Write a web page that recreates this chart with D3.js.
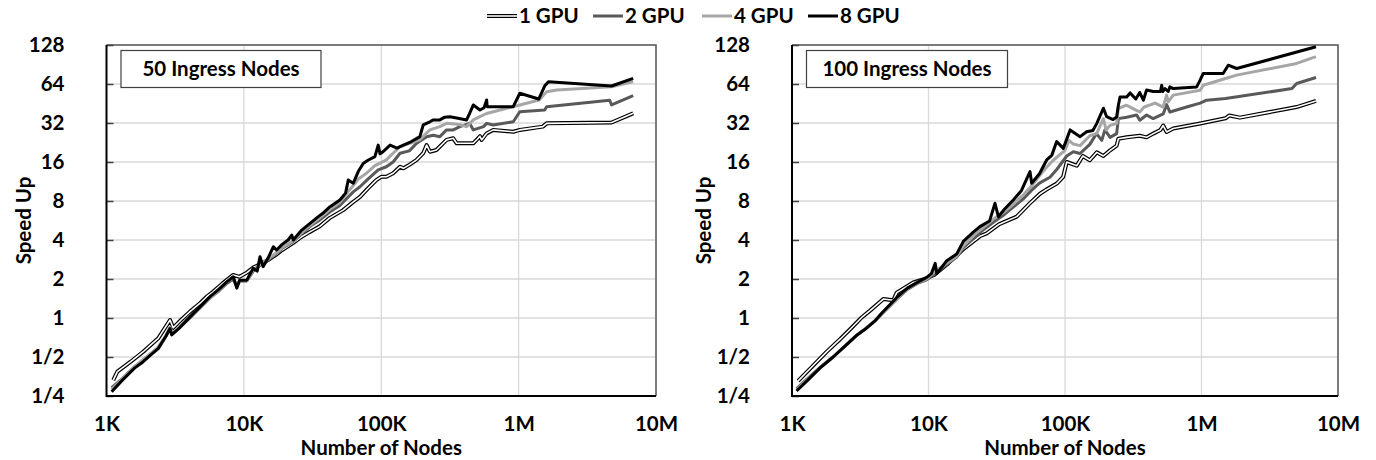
<!DOCTYPE html>
<html>
<head>
<meta charset="utf-8">
<script src="https://cdn.jsdelivr.net/npm/d3@7"></script>
<style>
  body { margin: 0; background: #fff; }
  svg { display: block; }
</style>
</head>
<body>
<svg class="chart" width="1376" height="460"></svg>
<script>
// axis ticks (x in thousands of nodes)
const xTicks = [1, 10, 100, 1000, 10000];
const xTickLabels = ["1K", "10K", "100K", "1M", "10M"];
const yTicks = [0.25, 0.5, 1, 2, 4, 8, 16, 32, 64, 128];
const yTickLabels = ["1/4", "1/2", "1", "2", "4", "8", "16", "32", "64", "128"];
const seriesNames = ["1 GPU", "2 GPU", "4 GPU", "8 GPU"];
const panelTitles = ["50 Ingress Nodes", "100 Ingress Nodes"];

// ---- 50 ingress nodes ----
const n50_1 = [1.12, 1.2, 1.5, 1.85, 2.1, 2.38, 2.9, 3.06, 3.5, 4.05, 4.8, 5.36, 5.99, 7, 8.37, 9.3, 10.5, 11.7, 13.1, 15, 17.3, 19, 22.9, 26, 30, 35.7, 42, 52.8, 62, 70, 80, 92, 100, 109, 122, 137, 145, 160, 181, 202, 214, 226, 252, 299, 334, 354, 468, 500, 523, 538, 585, 653, 914, 1020, 1500, 1600, 4750, 6820];
const s50_1 = [0.332, 0.385, 0.46, 0.549, 0.62, 0.697, 0.965, 0.84, 0.97, 1.12, 1.3, 1.46, 1.6, 1.85, 2.15, 2.08, 2.24, 2.45, 2.6, 2.8, 3.1, 3.35, 3.8, 4.2, 4.6, 5.1, 5.9, 6.8, 7.8, 8.6, 10, 11.6, 12.3, 12.3, 13.1, 14.7, 14.3, 15.2, 16.6, 18.7, 21.6, 19.2, 19.8, 23.7, 24.4, 22.3, 22.3, 24, 25.3, 23.7, 26.6, 28.3, 27.4, 28.3, 30, 31.8, 32.3, 38];

const n50_2 = [1.09, 1.3, 1.6, 1.85, 2.1, 2.38, 2.7, 2.9, 3.0, 3.4, 4.05, 4.8, 5.67, 6.5, 7.5, 8.37, 8.88, 9.3, 10.5, 11.7, 13.1, 15, 17.3, 19, 22.9, 26, 30.3, 34.8, 42.4, 50, 57.5, 62.5, 70, 80, 95, 109, 122, 137, 160, 181, 214, 239, 267, 299, 334, 374, 440, 468, 555, 585, 653, 914, 1020, 1550, 1600, 4600, 4750, 6820];
const s50_2 = [0.29, 0.34, 0.42, 0.47, 0.53, 0.59, 0.72, 0.84, 0.75, 0.84, 1.0, 1.2, 1.43, 1.6, 1.85, 2.0, 1.75, 1.92, 1.93, 2.3, 2.55, 2.8, 3.15, 3.45, 3.9, 4.4, 5.1, 5.6, 6.6, 7.4, 8.6, 9.4, 10.3, 11.8, 13.9, 14.7, 16, 18.7, 19.5, 22.3, 25.1, 25.7, 25.1, 28.3, 28.3, 30, 31.8, 28.3, 30, 31.8, 30.9, 32.7, 39.1, 40.3, 42.8, 48, 44.1, 52];

const n50_4 = [1.09, 1.3, 1.6, 1.85, 2.1, 2.38, 2.7, 2.9, 3.0, 3.4, 4.05, 4.8, 5.67, 6.5, 7.5, 8.37, 8.88, 9.3, 10.5, 11.7, 13.1, 15, 17.3, 19, 22.9, 26, 30.3, 34.8, 42.4, 50, 57.5, 62.5, 68, 78, 89.9, 98, 109, 122, 137, 161, 190, 226, 267, 299, 340, 374, 418, 468, 523, 585, 653, 914, 1020, 1410, 1600, 1900, 4750, 6820];
const s50_4 = [0.28, 0.34, 0.42, 0.48, 0.53, 0.6, 0.73, 0.85, 0.76, 0.85, 1.03, 1.2, 1.42, 1.62, 1.9, 2.05, 1.8, 1.9, 1.95, 2.35, 2.6, 2.85, 3.2, 3.5, 3.95, 4.5, 5.2, 5.8, 6.9, 7.8, 9.5, 10.5, 11.8, 13.1, 15, 15.7, 16.6, 18.7, 21, 22.3, 23.7, 28.3, 30, 31.8, 31.5, 31, 30, 33.8, 35.8, 37.9, 39.1, 42.8, 44.1, 48.2, 55.8, 57.5, 61, 67];

const n50_8 = [1.09, 1.3, 1.6, 1.85, 2.1, 2.38, 2.7, 2.9, 2.98, 3.4, 4.05, 4.8, 5.67, 6.5, 7.5, 8.37, 8.88, 9.3, 10.5, 11.7, 12.5, 13.1, 13.8, 15, 16.4, 17.3, 19, 21, 22.3, 22.9, 26, 30.3, 34.8, 38, 42.4, 50, 55, 57.5, 62.5, 68, 73.9, 80, 89.9, 95, 98, 103, 116, 130, 145, 166, 191, 202, 226, 239, 267, 290, 316, 354, 418, 440, 468, 523, 560, 585, 590, 914, 1020, 1400, 1550, 1650, 4750, 6820];
const s50_8 = [0.27, 0.33, 0.41, 0.46, 0.52, 0.58, 0.72, 0.83, 0.74, 0.84, 1.02, 1.22, 1.46, 1.65, 1.9, 2.08, 1.7, 1.96, 1.96, 2.42, 2.3, 2.97, 2.49, 2.9, 3.55, 3.35, 3.7, 4.0, 4.37, 4.0, 4.7, 5.38, 6.06, 6.5, 7.23, 8.14, 9.2, 11.6, 10.96, 13.5, 15.6, 16.5, 17.6, 21.6, 18.5, 19.2, 21.6, 20.5, 21.6, 23, 25.1, 30.9, 32.7, 33.8, 33.8, 35.5, 35.8, 35, 33.8, 38, 44.1, 40.3, 42, 48.2, 42.8, 42.8, 54.3, 49, 62, 66.7, 61.8, 70.8];

// ---- 100 ingress nodes ----
const n100_1 = [1.11, 1.4, 1.8, 2.25, 2.7, 3.24, 3.73, 4.67, 5.52, 5.85, 7.74, 9.4, 11, 14, 18, 24, 26.7, 33, 44.3, 55.4, 65.6, 73, 87, 97, 103, 122, 135, 152, 171, 191, 214, 239, 246, 283, 353, 396, 443, 500, 524, 555, 621, 977, 1500, 1600, 1910, 4980, 6900];
const s100_1 = [0.327, 0.42, 0.55, 0.686, 0.83, 1.01, 1.14, 1.4, 1.37, 1.57, 1.88, 2.0, 2.15, 2.65, 3.4, 4.3, 4.5, 5.3, 6.06, 7.7, 9.1, 9.8, 10.9, 12.3, 16, 15, 17.8, 16.5, 19, 17.8, 19.7, 21.4, 24.2, 24.8, 25.5, 24.8, 26.5, 28.3, 30.6, 27.3, 29, 31.7, 34.8, 36.6, 35.2, 42.5, 47.4];

const n100_2 = [1.08, 1.3, 1.6, 2, 2.5, 3, 3.5, 4.06, 4.5, 5.85, 7, 8.4, 9.7, 11.2, 13.6, 16.1, 18, 21.3, 24, 30, 36, 42, 50, 57, 65, 77.6, 87, 103, 115, 129, 152, 170, 186, 196, 214, 239, 246, 283, 335, 353, 396, 443, 524, 555, 587, 778, 977, 1090, 1500, 4600, 4980, 6900];
const s100_2 = [0.285, 0.34, 0.415, 0.5, 0.62, 0.74, 0.84, 0.95, 1.06, 1.4, 1.66, 1.86, 1.97, 2.2, 2.6, 2.95, 3.5, 4.1, 4.6, 5.5, 6.3, 7.2, 8.4, 9.7, 11, 12.2, 14, 17.8, 19.2, 18.6, 21.9, 26.5, 23.5, 28.3, 24.8, 26.5, 34.6, 35.5, 36.9, 33.6, 36.9, 34.6, 37.6, 44.4, 38.9, 42.5, 45.6, 48, 49.4, 59, 64.6, 71.9];

const n100_4 = [1.08, 1.3, 1.6, 2, 2.5, 3, 3.5, 4.06, 4.5, 5.85, 7, 8.4, 9.7, 11.2, 13.6, 16.1, 18, 21.3, 24, 30, 36, 42, 50, 57, 65, 73, 82, 100, 107, 115, 129, 152, 171, 191, 200, 214, 239, 246, 283, 320, 353, 380, 457, 524, 555, 570, 621, 977, 1030, 1500, 1810, 4980, 6900];
const s100_4 = [0.28, 0.335, 0.41, 0.5, 0.62, 0.74, 0.84, 0.96, 1.07, 1.42, 1.68, 1.88, 2.0, 2.3, 2.65, 3.0, 3.6, 4.3, 4.8, 5.8, 6.6, 7.6, 9, 10.5, 12.5, 14.5, 16.5, 19.7, 23.5, 22, 21.4, 25.5, 26.6, 34.6, 28.3, 30.7, 31.7, 41.4, 43.9, 41, 38.9, 42.5, 45.6, 42.5, 52.5, 46.5, 52.5, 57.3, 62.6, 70.6, 74.9, 92.2, 104];

const n100_8 = [1.08, 1.3, 1.6, 2, 2.5, 3, 3.5, 4.06, 4.5, 5.85, 7, 8.4, 9.7, 10.5, 11.2, 11.5, 13.6, 16.1, 18, 21.3, 23.8, 28, 30.7, 32.5, 36, 41.8, 48, 55.4, 57, 65, 73.4, 80, 86.9, 97.2, 109, 129, 144, 160, 171, 191, 202, 225, 239, 246, 253, 283, 300, 330, 353, 375, 396, 443, 500, 511, 520, 540, 570, 587, 621, 922, 977, 1030, 1440, 1570, 1810, 6900];
const s100_8 = [0.273, 0.33, 0.41, 0.5, 0.62, 0.74, 0.83, 0.95, 1.08, 1.44, 1.7, 1.9, 2.06, 2.2, 2.64, 2.2, 2.77, 3.12, 3.9, 4.6, 5.07, 5.6, 7.68, 6.05, 6.9, 8.14, 9.65, 13.5, 10.96, 13, 16.6, 18, 23, 20.4, 28.3, 25.1, 27.4, 28, 31.8, 41.6, 35.8, 34, 35.6, 43.9, 50.8, 50.8, 54.6, 49, 55, 48, 57.6, 56, 56, 62.6, 56, 59, 56, 60.8, 59, 60.8, 68.5, 77.2, 77.2, 89.4, 84.3, 124];

const font = "Lato, 'Open Sans', sans-serif";
const fontSize = 20.5;

const colors = { "1 GPU": "#000", "2 GPU": "#595959", "4 GPU": "#a6a6a6", "8 GPU": "#000" };

const svg = d3.select(".chart");

// panel frames
const panels = [
  { left: 106.5, right: 656, top: 45, bottom: 396, titleOffset: 76 },
  { left: 792, right: 1338, top: 45, bottom: 396, titleOffset: 81 }
];
const panelData = [
  [[n50_1, s50_1], [n50_2, s50_2], [n50_4, s50_4], [n50_8, s50_8]],
  [[n100_1, s100_1], [n100_2, s100_2], [n100_4, s100_4], [n100_8, s100_8]]
];

panels.forEach((p, pi) => {
  const x = d3.scaleLog().domain([1, 10000]).range([p.left, p.right]);
  const y = d3.scaleLog().base(2).domain([0.25, 128]).range([p.bottom, p.top]);
  const g = svg.append("g");

  // gridlines
  g.selectAll(".hgrid")
    .data(yTicks)
    .enter()
    .append("line")
    .attr("x1", p.left).attr("x2", p.right)
    .attr("y1", d => y(d)).attr("y2", d => y(d))
    .attr("stroke", "#d9d9d9").attr("stroke-width", 1.3);
  g.selectAll(".vgrid")
    .data(xTicks)
    .enter()
    .append("line")
    .attr("x1", d => x(d)).attr("x2", d => x(d))
    .attr("y1", p.top).attr("y2", p.bottom)
    .attr("stroke", "#d9d9d9").attr("stroke-width", 1.3);

  // frame: top/right grey, left/bottom black
  g.append("path")
    .attr("d", `M${p.left},${p.top}H${p.right}V${p.bottom}`)
    .attr("fill", "none").attr("stroke", "#595959").attr("stroke-width", 1.5);

  // y axis
  const yAxis = g.append("g")
    .attr("transform", `translate(${p.left},0)`)
    .call(d3.axisLeft(y).tickValues(yTicks).tickFormat((d, i) => yTickLabels[i])
      .tickSizeInner(-7).tickSizeOuter(0).tickPadding(42));
  yAxis.select(".domain").remove();
  yAxis.selectAll("line").attr("stroke", "#404040").attr("stroke-width", 1.5);
  yAxis.selectAll("text")
    .attr("font-family", font).attr("font-size", fontSize).attr("font-weight", "bold").attr("fill", "#000");

  // x axis
  const xAxis = g.append("g")
    .attr("transform", `translate(0,${p.bottom})`)
    .call(d3.axisBottom(x).tickValues(xTicks).tickFormat((d, i) => xTickLabels[i])
      .tickSize(0).tickPadding(20));
  xAxis.select(".domain").remove();
  xAxis.selectAll("text")
    .attr("font-family", font).attr("font-size", fontSize).attr("font-weight", "bold").attr("fill", "#000");

  g.append("path")
    .attr("d", `M${p.left},${p.top}V${p.bottom}H${p.right}`)
    .attr("fill", "none").attr("stroke", "#000").attr("stroke-width", 2);

  // axis titles
  g.append("text")
    .attr("x", (p.left + p.right) / 2).attr("y", 455)
    .attr("text-anchor", "middle")
    .attr("font-family", font).attr("font-size", fontSize).attr("font-weight", "bold")
    .text("Number of Nodes");
  g.append("text")
    .attr("transform", `translate(${p.left - p.titleOffset},${(p.top + p.bottom) / 2}) rotate(-90)`)
    .attr("text-anchor", "middle")
    .attr("font-family", font).attr("font-size", fontSize).attr("font-weight", "bold")
    .text("Speed Up");

  // series lines
  const line = d3.line().x(d => x(d[0])).y(d => y(d[1]));
  panelData[pi].forEach((s, si) => {
    const pts = s[0].map((v, i) => [v, s[1][i]]);
    const name = seriesNames[si];
    if (name === "1 GPU") {
      g.append("path").datum(pts).attr("d", line)
        .attr("fill", "none").attr("stroke", "#000").attr("stroke-width", 4)
        .attr("stroke-linejoin", "round");
      g.append("path").datum(pts).attr("d", line)
        .attr("fill", "none").attr("stroke", "#fff").attr("stroke-width", 1.6)
        .attr("stroke-linejoin", "round");
    } else {
      g.append("path").datum(pts).attr("d", line)
        .attr("fill", "none").attr("stroke", colors[name]).attr("stroke-width", 3)
        .attr("stroke-linejoin", "round");
    }
  });

  // inset label box
  const bw = pi === 0 ? 200 : 201;
  g.append("rect")
    .attr("x", p.left + 14.5).attr("y", 50.5)
    .attr("width", bw).attr("height", 37)
    .attr("fill", "#fff").attr("stroke", "#404040").attr("stroke-width", 1.2);
  g.append("text")
    .attr("x", p.left + 14.5 + bw / 2).attr("y", 69)
    .attr("dy", "0.35em")
    .attr("text-anchor", "middle")
    .attr("font-family", font).attr("font-size", fontSize).attr("font-weight", "bold")
    .text(panelTitles[pi]);
});

// legend
const legendX = [487, 593, 702, 808];
const legend = svg.append("g");
seriesNames.forEach((name, i) => {
  const lx = legendX[i];
  if (name === "1 GPU") {
    legend.append("line").attr("x1", lx).attr("x2", lx + 30).attr("y1", 16).attr("y2", 16)
      .attr("stroke", "#000").attr("stroke-width", 4);
    legend.append("line").attr("x1", lx).attr("x2", lx + 30).attr("y1", 16).attr("y2", 16)
      .attr("stroke", "#fff").attr("stroke-width", 1.6);
  } else {
    legend.append("line").attr("x1", lx).attr("x2", lx + 30).attr("y1", 16).attr("y2", 16)
      .attr("stroke", colors[name]).attr("stroke-width", 3);
  }
  legend.append("text")
    .attr("x", lx + 32).attr("y", 16).attr("dy", "0.35em")
    .attr("font-family", font).attr("font-size", fontSize).attr("font-weight", "bold")
    .text(name);
});
</script>
</body>
</html>
